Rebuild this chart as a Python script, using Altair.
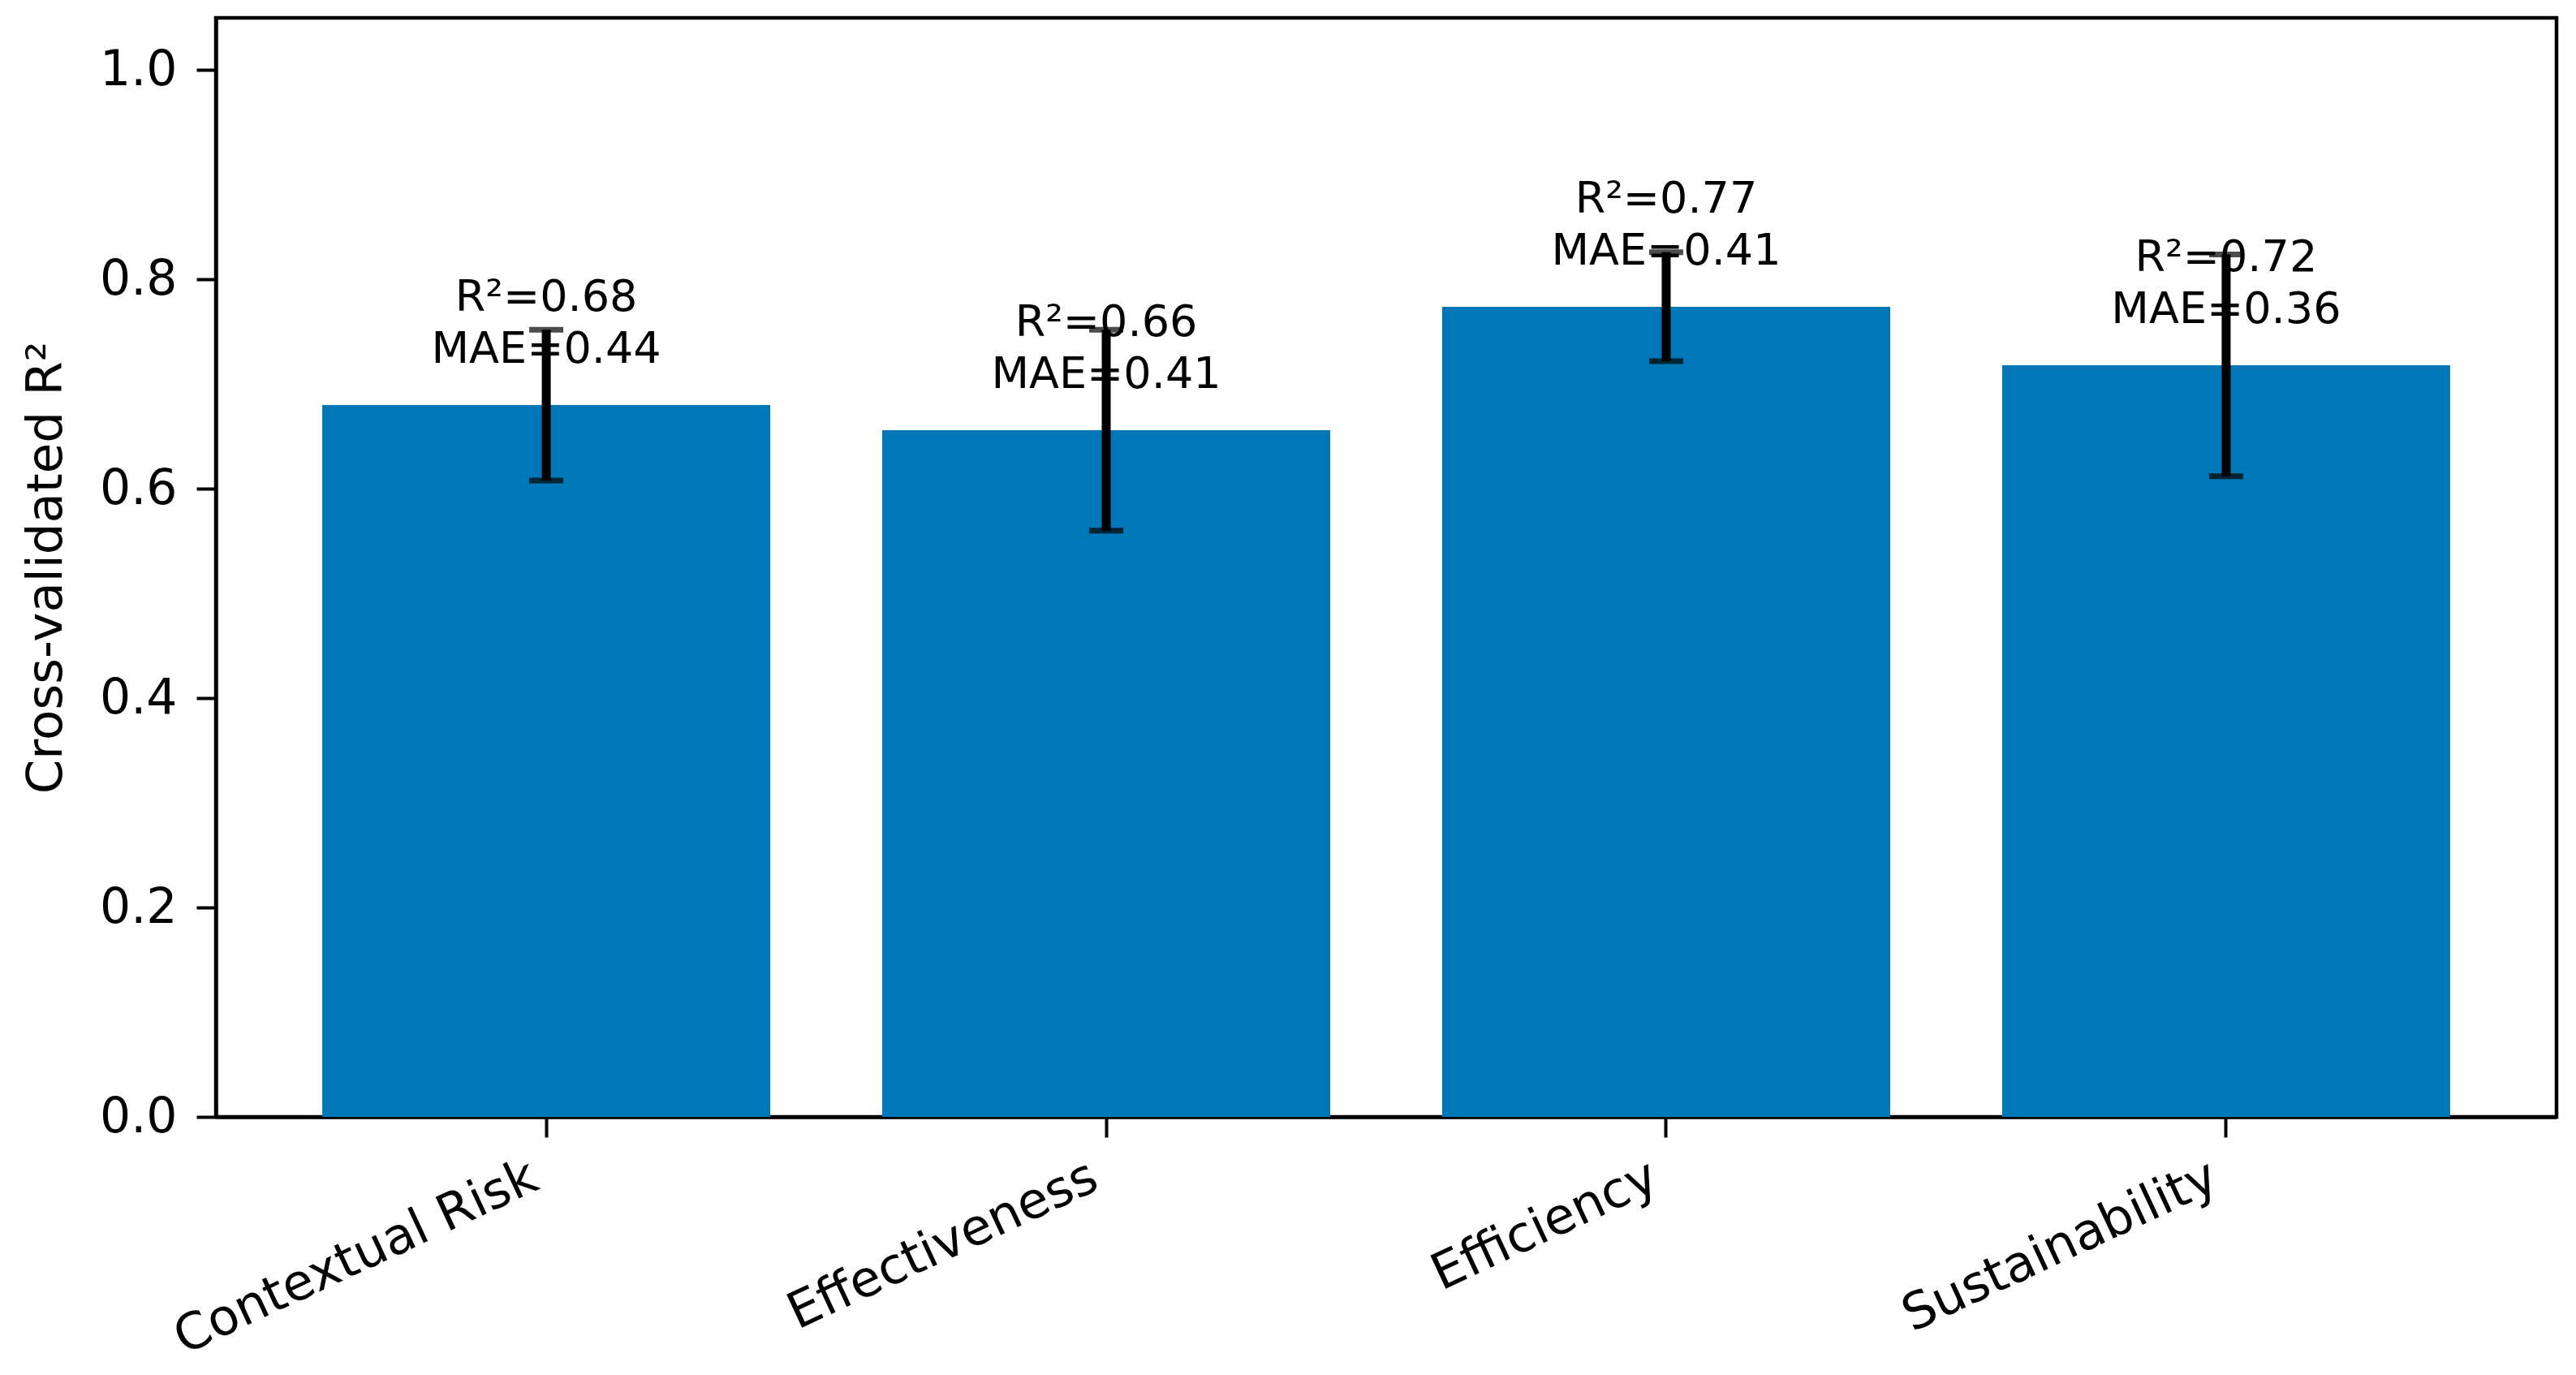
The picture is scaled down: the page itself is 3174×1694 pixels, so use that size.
import altair as alt
import pandas as pd

categories = ["Contextual Risk", "Effectiveness", "Efficiency", "Sustainability"]
r2_mean = [0.680, 0.656, 0.774, 0.718]
r2_sd = [0.072, 0.096, 0.052, 0.106]
mae = [0.44, 0.41, 0.41, 0.36]
y_ticks = [0.0, 0.2, 0.4, 0.6, 0.8, 1.0]

df = pd.DataFrame({
    "category": categories,
    "r2": r2_mean,
    "sd": r2_sd,
    "mae": mae,
})
df["lo"] = df["r2"] - df["sd"]
df["hi"] = df["r2"] + df["sd"]
df["r2_label"] = [f"R²={v:.2f}" for v in df["r2"]]
df["mae_label"] = [f"MAE={v:.2f}" for v in df["mae"]]

FONT = "DejaVu Sans"

x_enc = alt.X(
    "category:N",
    sort=categories,
    scale=alt.Scale(paddingInner=0.2, paddingOuter=0.19),
    axis=alt.Axis(
        title=None,
        labelAngle=335,
        labelAlign="right",
        labelBaseline="top",
        labelFontSize=62,
        labelPadding=18,
        labelOffset=-27,
        labelLimit=0,
        labelColor="black",
        tickSize=25,
        tickWidth=4,
        tickColor="black",
        domainColor="black",
        domainWidth=4.5,
    ),
)

y_scale = alt.Scale(domain=[0, 1.05], nice=False, zero=True)

base = alt.Chart(df).encode(x=x_enc)

bars = base.mark_bar(color="#0077b6").encode(
    y=alt.Y(
        "r2:Q",
        scale=y_scale,
        axis=alt.Axis(
            title="Cross-validated R²",
            titleFontSize=61,
            titleFontWeight="normal",
            titleColor="black",
            titlePadding=34,
            values=y_ticks,
            format=".1f",
            labelFontSize=60,
            labelPadding=24,
            labelColor="black",
            tickSize=24,
            tickWidth=4,
            tickColor="black",
            domainColor="black",
            domainWidth=4.5,
            grid=False,
        ),
    )
)

text_r2 = base.mark_text(
    baseline="alphabetic", align="center", fontSize=54, color="black", dy=-116
).encode(y=alt.Y("r2:Q", scale=y_scale), text="r2_label:N")

text_mae = base.mark_text(
    baseline="alphabetic", align="center", fontSize=54, color="black", dy=-52
).encode(y=alt.Y("r2:Q", scale=y_scale), text="mae_label:N")

stem = base.mark_rule(color="black", strokeWidth=11).encode(
    y=alt.Y("lo:Q", scale=y_scale), y2="hi:Q"
)
cap_lo = base.mark_tick(color="black", thickness=7, size=42).encode(
    y=alt.Y("lo:Q", scale=y_scale)
)
cap_hi = base.mark_tick(color="black", thickness=7, size=42).encode(
    y=alt.Y("hi:Q", scale=y_scale)
)

chart = (
    alt.layer(bars, text_r2, text_mae, stem, cap_lo, cap_hi)
    .properties(
        width=2884,
        height=1354,
        autosize=alt.AutoSizeParams(type="none"),
        padding={"left": 258, "top": 14, "right": 16, "bottom": 310},
    )
    .configure(font=FONT)
    .configure_view(stroke="black", strokeWidth=4.5)
)

chart.save("out.html", embed_options={"renderer": "svg", "actions": False})
